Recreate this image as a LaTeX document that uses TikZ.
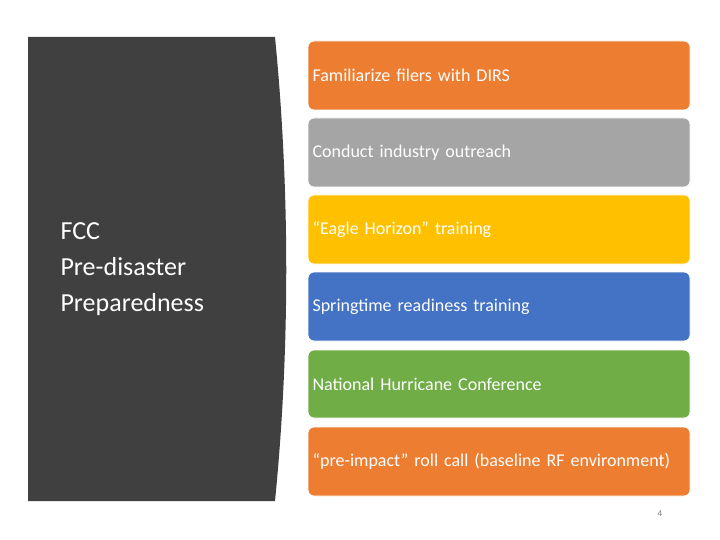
\documentclass[tikz,border=0pt]{standalone}
\usepackage{fontspec}
\setmainfont{Carlito}
\definecolor{dk}{HTML}{404040}
\definecolor{o1}{HTML}{ED7D31}
\definecolor{g1}{HTML}{A5A5A5}
\definecolor{y1}{HTML}{FFC000}
\definecolor{b1}{HTML}{4472C4}
\definecolor{gr}{HTML}{70AD47}
\begin{document}
\begin{tikzpicture}[x=1pt,y=-1pt,
 box/.style={rounded corners=6pt,draw=white,line width=0.8pt},
 lbl/.style={text=white,font=\fontsize{18}{21}\selectfont,anchor=west,align=left,text width=360pt}]
\useasboundingbox (0,0) rectangle (720,540);
\fill[dk] (28,37) -- (275,37) .. controls (290,190) and (290,350) .. (275,501) -- (28,501) -- cycle;
\node[text=white,anchor=west,align=left,font=\fontsize{26}{36}\selectfont] (t) at (57,269) {FCC\\Pre-disaster\\Preparedness};
\foreach \i/\ya/\yb/\c/\t in {
 1/41/110/o1/{Familiarize filers with DIRS},
 2/118/187/g1/{Conduct industry outreach},
 3/195/264/y1/{“Eagle Horizon” training},
 4/272/341/b1/{Springtime readiness training},
 5/350/418/gr/{National Hurricane Conference},
 6/427/496/o1/{“pre-impact” roll call (baseline RF environment)}}{
 \draw[box,fill=\c] (308,\ya) rectangle (690,\yb);
 \node[lbl] (b\i) at (309,{(\ya+\yb)/2}) {\t};
}
\node[text=gray,font=\fontsize{9}{10}\selectfont] (p) at (660,514) {4};
\end{tikzpicture}
\end{document}
